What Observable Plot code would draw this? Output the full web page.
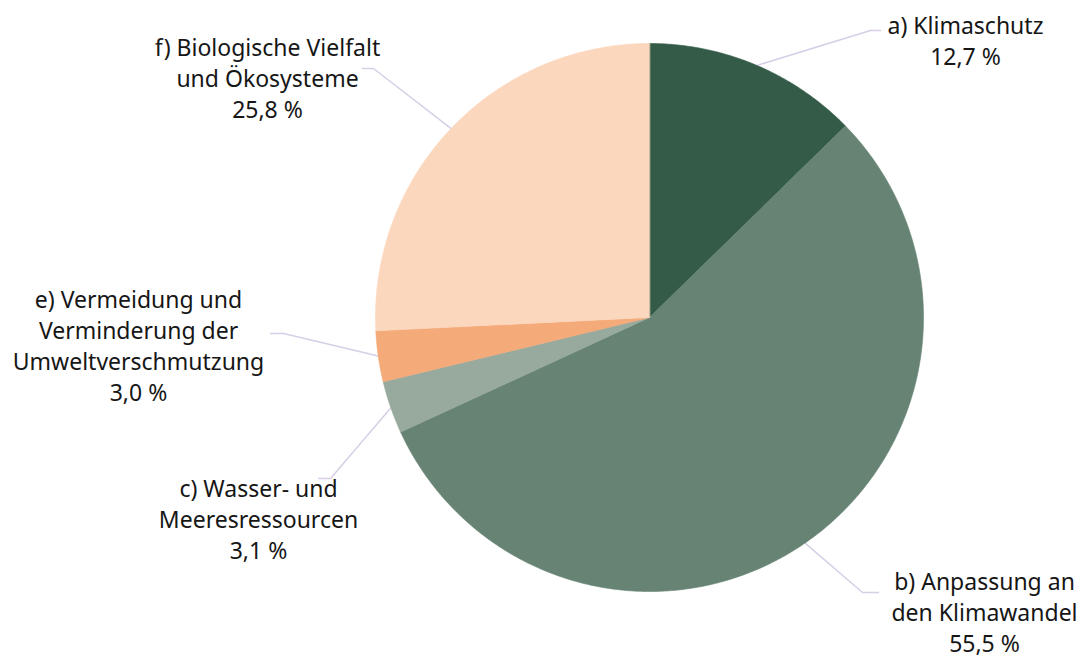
<!DOCTYPE html>
<html>
<head>
<meta charset="utf-8">
<script src="https://cdn.jsdelivr.net/npm/d3@7"></script>
<script src="https://cdn.jsdelivr.net/npm/@observablehq/plot@0.6"></script>
<style>
  html, body { margin: 0; padding: 0; background: #ffffff; }
  #chart svg { display: block; }
</style>
</head>
<body>
<div id="chart"></div>
<script>
// ---- data ----
const categories = [
  "a) Klimaschutz",
  "b) Anpassung an den Klimawandel",
  "c) Wasser- und Meeresressourcen",
  "e) Vermeidung und Verminderung der Umweltverschmutzung",
  "f) Biologische Vielfalt und Ökosysteme"
];
const labelLines = [
  "a) Klimaschutz",
  "b) Anpassung an\nden Klimawandel",
  "c) Wasser- und\nMeeresressourcen",
  "e) Vermeidung und\nVerminderung der\nUmweltverschmutzung",
  "f) Biologische Vielfalt\nund Ökosysteme"
];
const values = [12.7, 55.5, 3.1, 3.0, 25.8];
const colors = ["#335b48", "#668373", "#98aa9e", "#f4aa79", "#fbd7bd"];

// ---- layout (pixels) ----
const W = 1082, H = 660;
const cx = 649, cy = 317, R = 274;
// label block centre and leader elbow / end points
const labelX   = [965, 984, 258, 138, 267];
const labelY   = [39, 611, 518, 344, 77];
const elbowX   = [870, 862, 330, 283, 373];
const elbowY   = [30, 592, 478, 333, 68];
const endX     = [880, 878, 318, 270, 362];

const fmt = v => v.toFixed(1).replace(".", ",") + " %";

const arcs = d3.pie().sort(null).value(d => d)(values);

const slicePts = [];
arcs.forEach((a, i) => {
  const key = categories[i];
  slicePts.push({key, x: cx, y: cy});
  const n = Math.max(4, Math.ceil((a.endAngle - a.startAngle) / (Math.PI / 360)));
  for (let k = 0; k <= n; k++) {
    const t = a.startAngle + (a.endAngle - a.startAngle) * k / n;
    slicePts.push({key, x: cx + R * Math.sin(t), y: cy - R * Math.cos(t)});
  }
});

const leaderPts = [];
arcs.forEach((a, i) => {
  const key = categories[i];
  const m = (a.startAngle + a.endAngle) / 2;
  leaderPts.push({key, x: cx + (R - 1) * Math.sin(m), y: cy - (R - 1) * Math.cos(m)});
  leaderPts.push({key, x: elbowX[i], y: elbowY[i]});
  leaderPts.push({key, x: endX[i], y: elbowY[i]});
});

const labels = categories.map((c, i) => ({
  key: c,
  x: labelX[i],
  y: labelY[i],
  text: labelLines[i] + "\n" + fmt(values[i])
}));

const chart = Plot.plot({
  width: W,
  height: H,
  margin: 0,
  x: {domain: [0, W], range: [0, W], axis: null},
  y: {domain: [0, H], range: [0, H], axis: null},
  color: {domain: categories, range: colors},
  style: {background: "#ffffff", fontFamily: "'Noto Sans', sans-serif"},
  marks: [
    Plot.line(leaderPts, {x: "x", y: "y", z: "key", stroke: "#d6cfe6", strokeWidth: 1.5}),
    Plot.line(slicePts, {x: "x", y: "y", z: "key", fill: "key", stroke: "key", strokeWidth: 0.6, curve: "linear-closed"}),
    Plot.text(labels, {
      x: "x", y: "y", text: "text",
      fontSize: 23, lineHeight: 31 / 23, lineAnchor: "middle",
      textAnchor: "middle", fill: "#161616"
    })
  ]
});
document.getElementById("chart").appendChild(chart);
</script>
</body>
</html>
